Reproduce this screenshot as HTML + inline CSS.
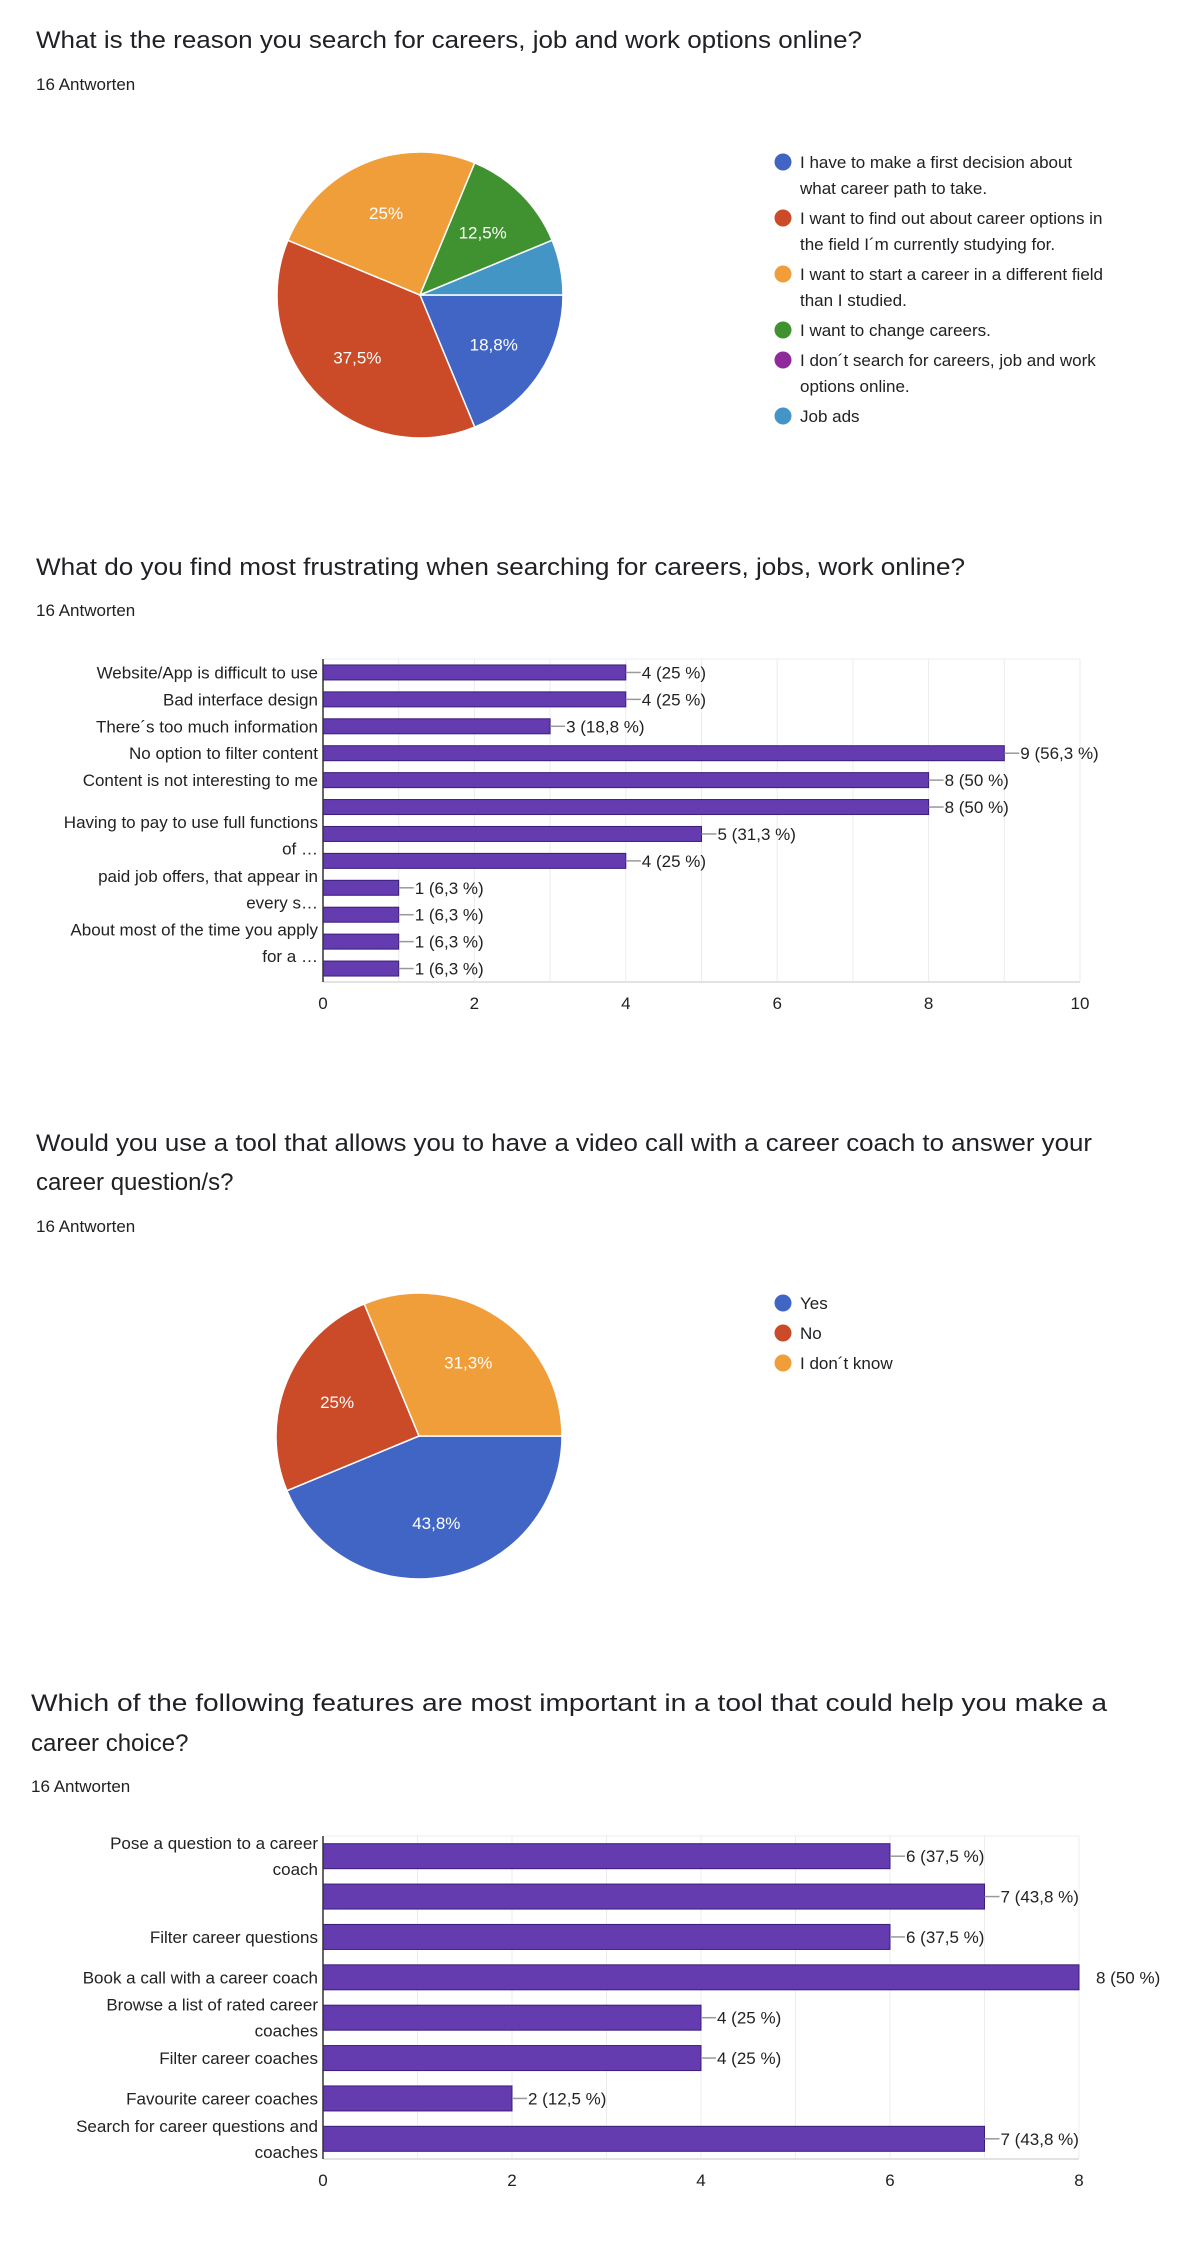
<!DOCTYPE html>
<html><head><meta charset="utf-8">
<style>
html,body{margin:0;padding:0;background:#fff;}
svg{display:block;font-family:"Liberation Sans",Arial,sans-serif;}
</style></head>
<body>
<svg id="page" width="1200" height="2241" viewBox="0 0 1200 2241" xmlns="http://www.w3.org/2000/svg">
<g>
<text x="36" y="48" font-size="24" fill="#202124" textLength="826" lengthAdjust="spacingAndGlyphs">What is the reason you search for careers, job and work options online?</text>
<text x="36" y="90" font-size="17" fill="#202124">16 Antworten</text>
</g>
<g id="pie1"></g>
<g id="leg1"></g>

<g>
<text x="36" y="575" font-size="24" fill="#202124" textLength="929" lengthAdjust="spacingAndGlyphs">What do you find most frustrating when searching for careers, jobs, work online?</text>
<text x="36" y="616" font-size="17" fill="#202124">16 Antworten</text>
</g>
<g id="bar1"></g>

<g>
<text x="36" y="1151" font-size="24" fill="#202124" textLength="1056" lengthAdjust="spacingAndGlyphs">Would you use a tool that allows you to have a video call with a career coach to answer your</text>
<text x="36" y="1190" font-size="24" fill="#202124">career question/s?</text>
<text x="36" y="1232" font-size="17" fill="#202124">16 Antworten</text>
</g>
<g id="pie2"></g>
<g id="leg2"></g>

<g>
<text x="31" y="1711" font-size="24" fill="#202124" textLength="1076" lengthAdjust="spacingAndGlyphs">Which of the following features are most important in a tool that could help you make a</text>
<text x="31" y="1751" font-size="24" fill="#202124">career choice?</text>
<text x="31" y="1792" font-size="17" fill="#202124">16 Antworten</text>
</g>
<g id="bar2"></g>
</svg>
<script>
// ---- Chart data ----
const q1Labels = [["I have to make a first decision about","what career path to take."],["I want to find out about career options in","the field I´m currently studying for."],["I want to start a career in a different field","than I studied."],["I want to change careers."],["I don´t search for careers, job and work","options online."],["Job ads"]];
const q1Counts = [3, 6, 4, 2, 0, 1];
const q1PctText = ["18,8%","37,5%","25%","12,5%","",""];
const q1Colors = ["#4065c4","#cb4a27","#f09e3a","#3f922f","#8e2a99","#4395c6"];

const q2Labels = ["Website/App is difficult to use","Bad interface design","There´s too much information","No option to filter content","Content is not interesting to me","","Having to pay to use full functions of …","","paid job offers, that appear in every s…","","About most of the time you apply for a …",""];
const q2Values = [4,4,3,9,8,8,5,4,1,1,1,1];
const q2ValueText = ["4 (25 %)","4 (25 %)","3 (18,8 %)","9 (56,3 %)","8 (50 %)","8 (50 %)","5 (31,3 %)","4 (25 %)","1 (6,3 %)","1 (6,3 %)","1 (6,3 %)","1 (6,3 %)"];
const q2Ticks = [0,2,4,6,8,10];

const q3Labels = ["Yes","No","I don´t know"];
const q3Counts = [7, 4, 5];
const q3PctText = ["43,8%","25%","31,3%"];
const q3Colors = ["#4065c4","#cb4a27","#f09e3a"];

const q4Labels = ["Pose a question to a career coach","","Filter career questions","Book a call with a career coach","Browse a list of rated career coaches","Filter career coaches","Favourite career coaches","Search for career questions and coaches"];
const q4Values = [6,7,6,8,4,4,2,7];
const q4ValueText = ["6 (37,5 %)","7 (43,8 %)","6 (37,5 %)","8 (50 %)","4 (25 %)","4 (25 %)","2 (12,5 %)","7 (43,8 %)"];
const q4Ticks = [0,2,4,6,8];

const NS="http://www.w3.org/2000/svg";
function mk(tag, parent, attrs){const e=document.createElementNS(NS,tag);for(const k in attrs)e.setAttribute(k,attrs[k]);parent.appendChild(e);return e;}

function pie(gid, counts, colors, pct, cx, cy, r){
  const g=document.getElementById(gid);
  const total=counts.reduce((a,b)=>a+b,0);
  let a=0;
  counts.forEach((c,i)=>{
    if(c<=0)return;
    const a0=a, a1=a+c/total*2*Math.PI; a=a1;
    const x0=cx+r*Math.cos(a0), y0=cy+r*Math.sin(a0), x1=cx+r*Math.cos(a1), y1=cy+r*Math.sin(a1);
    const large=(a1-a0)>Math.PI?1:0;
    const p=mk('path',g,{d:`M${cx},${cy} L${x0},${y0} A${r},${r} 0 ${large} 1 ${x1},${y1} Z`,fill:colors[i],stroke:'#fff','stroke-width':1.5});
    
    
    if(pct[i]){
      const m=(a0+a1)/2, lr=r*0.62;
      const t=mk('text',g,{x:cx+lr*Math.cos(m),y:cy+lr*Math.sin(m)+6,'font-size':17,fill:'#fff','text-anchor':'middle'});
      t.textContent=pct[i];
      
      
    }
  });
}
function legend(gid, labels, colors, x, y0, lineH, gap){
  const g=document.getElementById(gid);
  let y=y0;
  labels.forEach((lines,i)=>{
    const c=mk('circle',g,{cx:x,cy:y,r:8.5,fill:colors[i]});
    
    
    lines.forEach((ln,j)=>{
      const t=mk('text',g,{x:x+17,y:y+6+j*lineH,'font-size':17,fill:'#202124'});
      t.textContent=ln;
      
      
    });
    y+=lines.length*lineH+gap;
  });
}
function wrap(s,maxLen){
  if(!s)return[];
  if(s.length<=maxLen)return[s];
  const w=s.split(' ');let l1='';let k=0;
  while(k<w.length&&(l1+(l1?' ':'')+w[k]).length<=maxLen){l1+=(l1?' ':'')+w[k];k++;}
  return [l1,w.slice(k).join(' ')];
}
function bars(gid, labels, values, vtext, ticks, x0, x1, top, bottom, barH, lineH, wrapLen, labelShift){
  const g=document.getElementById(gid);
  const max=ticks[ticks.length-1];
  const xs=v=>x0+(x1-x0)*v/max;
  const band=(bottom-top)/values.length;
  for(let v=0;v<=max;v+=(ticks[1]-ticks[0])/2){
    const l=mk('line',g,{x1:xs(v),x2:xs(v),y1:top,y2:bottom,stroke:'#ececec','stroke-width':1});
    
    
  }
  const tl=mk('line',g,{x1:x0,x2:xs(max),y1:top,y2:top,stroke:'#ececec'});
  
  const bl=mk('line',g,{x1:x0,x2:xs(max),y1:bottom,y2:bottom,stroke:'#e3e3e3','stroke-width':2});
  
  ticks.forEach(t=>{
    const e=mk('text',g,{x:xs(t),y:bottom+27,'font-size':17,fill:'#222','text-anchor':'middle'});
    e.textContent=t;
    
    
  });
  values.forEach((v,i)=>{
    const cy=top+band*(i+0.5);
    const r=mk('rect',g,{x:x0,y:cy-barH/2,width:xs(v)-x0,height:barH,fill:'#653bb0',stroke:'#3a1e78','stroke-width':1});
    
    
    const ex=xs(v);
    const isMax = v===max;
    if(!isMax){
      const c=mk('line',g,{x1:ex,x2:ex+15,y1:cy,y2:cy,stroke:'#999','stroke-width':1.5});
      
      
    }
    const t=mk('text',g,{x:ex+(isMax?17:16),y:cy+6,'font-size':17,fill:'#222'});
    t.textContent=vtext[i];
    
    
    const lines=wrap(labels[i],wrapLen);
    lines.forEach((ln,j)=>{
      const ly = lines.length===1 ? cy+6 : cy+6+labelShift+j*lineH;
      const e=mk('text',g,{x:x0-5,y:ly,'font-size':17,fill:'#222','text-anchor':'end'});
      e.textContent=ln;
      
      
    });
  });
  const ax=mk('line',g,{x1:x0,x2:x0,y1:top,y2:bottom,stroke:'#333','stroke-width':1.5});
  
  
}

pie('pie1', q1Counts, q1Colors, q1PctText, 420, 295, 143);
legend('leg1', q1Labels, q1Colors, 783, 162, 26, 4);
bars('bar1', q2Labels, q2Values, q2ValueText, q2Ticks, 323, 1080, 659, 982, 15, 26.5, 35, -12);
pie('pie2', q3Counts, q3Colors, q3PctText, 419, 1436, 143);
legend('leg2', q3Labels.map(s=>[s]), q3Colors, 783, 1303, 30, 0);
bars('bar2', q4Labels, q4Values, q4ValueText, q4Ticks, 323, 1079, 1836, 2159, 25, 26, 31, -13);
</script>
</body></html>
